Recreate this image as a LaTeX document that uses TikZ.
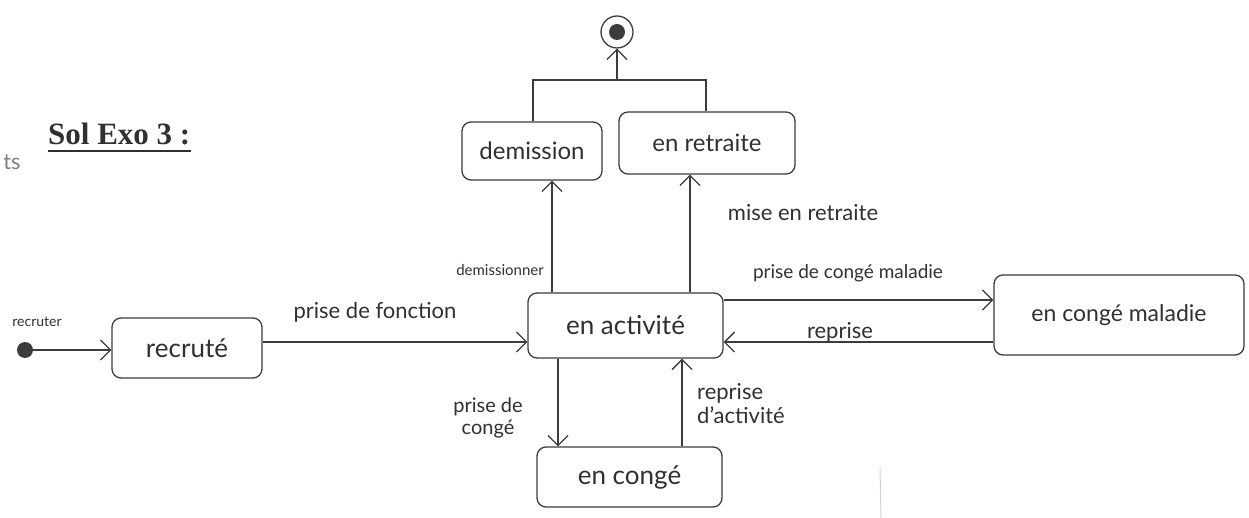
\documentclass[tikz,border=0pt]{standalone}
\usepackage{fontspec}
\setmainfont{Lato}
\newfontfamily\titlefont{Liberation Serif}
\usetikzlibrary{arrows.meta,calc}
\definecolor{pencil}{HTML}{3C3C3C}
\definecolor{ink}{HTML}{303030}
\newcommand{\fs}[1]{\fontsize{#1}{#1}\selectfont}
\tikzset{
  state/.style={draw=pencil, line width=1.3pt, rounded corners=9pt, text=ink,
    inner sep=0pt, align=center},
  trans/.style={draw=pencil, line width=1.2pt,
    -{Straight Barb[length=10pt,width=20pt,line width=1.3pt]}},
  link/.style={draw=pencil, line width=1.2pt},
  lbl/.style={text=ink, inner sep=0pt, align=center},
}
\begin{document}
\begin{tikzpicture}[x=1pt,y=-1pt]
\useasboundingbox (0,0) rectangle (1249,518);

% heading
\node[anchor=base west, inner sep=0pt, text=ink] (title) at (48,145)
  {\titlefont\bfseries\fs{31}Sol Exo 3 :};
\draw[ink, line width=1.8pt] (title.south west |- 0,151) -- (title.south east |- 0,151);
\node[lbl, text=gray, font=\fs{22}] (marg) at (12,162) {ts};

% states
\node[state, minimum width=150, minimum height=60, font=\fs{26}] (rec) at (187,348) {recruté};
\node[state, minimum width=195, minimum height=65, font=\fs{26}] (act) at (625.5,325.5) {en activité};
\node[state, minimum width=140, minimum height=58, font=\fs{24}] (dem) at (532,151) {demission};
\node[state, minimum width=176, minimum height=62, font=\fs{24}] (ret) at (707,143) {en retraite};
\node[state, minimum width=250, minimum height=80, font=\fs{23}] (mal) at (1119,315) {en congé maladie};
\node[state, minimum width=185, minimum height=60, font=\fs{26}] (cong) at (629.5,477) {en congé};

% initial and final pseudo-states
\node[circle, fill=pencil, minimum size=16, inner sep=0pt] (ini) at (25,350) {};
\node[circle, draw=pencil, line width=1.3pt, minimum size=32, inner sep=0pt] (fin) at (617,32) {};
\node[circle, fill=pencil, minimum size=16, inner sep=0pt] (finc) at (fin) {};

% guide points for the vertical connectors
\coordinate (xd) at (552,0);
\coordinate (xr) at (690,0);
\coordinate (xc) at (558,0);
\coordinate (xa) at (682,0);
\coordinate (yo) at (0,300);
\coordinate (yb) at (0,342);
\coordinate (jl) at (533,80);
\coordinate (jr) at (706,80);
\coordinate (jn) at (617,80);

% transitions
\draw[trans] (ini) -- (rec.west |- ini);
\draw[trans] (rec.east |- yb) -- (act.west |- yb);
\draw[trans] (act.north -| xd) -- (dem.south -| xd);
\draw[trans] (act.north -| xr) -- (ret.south -| xr);
\draw[trans] (act.east |- yo) -- (mal.west |- yo);
\draw[trans] (mal.west |- yb) -- (act.east |- yb);
\draw[trans] (act.south -| xc) -- (cong.north -| xc);
\draw[trans] (cong.north -| xa) -- (act.south -| xa);

% join towards the final state
\draw[link] (dem.north -| jl) -- (jl) -- (jr) -- (ret.north -| jr);
\draw[trans] (jn) -- (fin.south);

% transition labels
\node[lbl, font=\fs{14}] (lrec) at (37,322) {recruter};
\node[lbl, font=\fs{22}] (lfon) at (375,312) {prise de fonction};
\node[lbl, font=\fs{15}] (ldem) at (500,270) {demissionner};
\node[lbl, font=\fs{22}] (lret) at (803,213) {mise en retraite};
\node[lbl, font=\fs{19}] (lmal) at (848,273) {prise de congé maladie};
\node[lbl, font=\fs{22}] (lrep) at (840,332) {reprise};
\node[lbl, font=\fs{20}] (lcon) at (488,418) {prise de\\[2pt]congé};
\node[lbl, font=\fs{22}, align=left, anchor=west] (lact) at (697,404) {reprise\\[2pt]d'activité};

% faint pencil stroke at the bottom
\draw[gray!35, line width=1pt] (880,467) -- (881,518);
\end{tikzpicture}
\end{document}
